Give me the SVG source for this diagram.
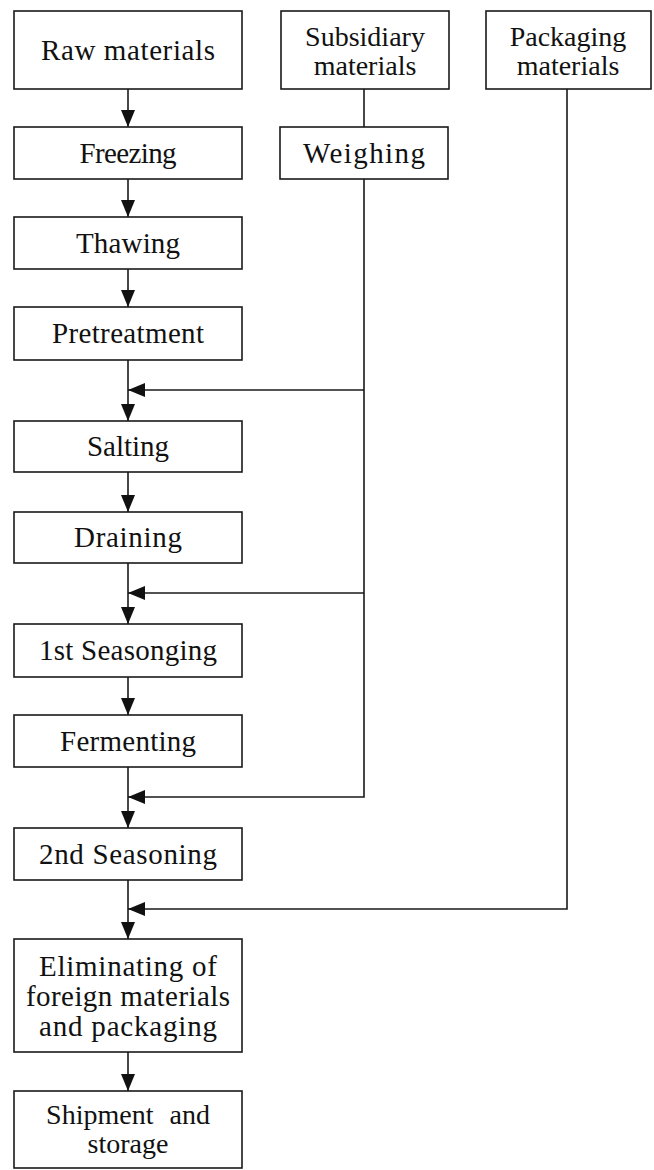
<svg xmlns="http://www.w3.org/2000/svg" width="654" height="1170" viewBox="0 0 654 1170">
<style>
.box{fill:#fff;stroke:#1a1a1a;stroke-width:1.6}
.t{font-family:"Liberation Serif","Times New Roman",serif;font-size:29px;fill:#111;text-anchor:middle}
.s{font-size:28px}
.c{fill:none;stroke:#1a1a1a;stroke-width:1.6}
</style>
<defs>
<marker id="ah" viewBox="0 0 17 14" refX="17" refY="7" markerWidth="17" markerHeight="14" markerUnits="userSpaceOnUse" orient="auto">
<path d="M0,0 L17,7 L0,14 z" fill="#111"/>
</marker>
</defs>
<rect width="654" height="1170" fill="#fff"/>
<g id="connectors">
<path class="c" d="M128,89 V127" marker-end="url(#ah)"/>
<path class="c" d="M128,179 V217" marker-end="url(#ah)"/>
<path class="c" d="M128,269 V307" marker-end="url(#ah)"/>
<path class="c" d="M128,360 V421" marker-end="url(#ah)"/>
<path class="c" d="M128,472 V512" marker-end="url(#ah)"/>
<path class="c" d="M128,563 V624" marker-end="url(#ah)"/>
<path class="c" d="M128,677 V715" marker-end="url(#ah)"/>
<path class="c" d="M128,767 V828" marker-end="url(#ah)"/>
<path class="c" d="M128,880 V939" marker-end="url(#ah)"/>
<path class="c" d="M128,1052 V1091" marker-end="url(#ah)"/>
<path class="c" d="M364,89 V127"/>
<path class="c" d="M364,179 V797 H128" marker-end="url(#ah)"/>
<path class="c" d="M364,390 H128" marker-end="url(#ah)"/>
<path class="c" d="M364,593 H128" marker-end="url(#ah)"/>
<path class="c" d="M567,89 V909 H128" marker-end="url(#ah)"/>
</g>
<g id="raw"><rect class="box" x="14" y="11" width="228" height="78"/><text class="t" x="128" y="60" textLength="174" lengthAdjust="spacing">Raw materials</text></g>
<g id="subsidiary"><rect class="box" x="281" y="11" width="168" height="78"/><text class="t s" x="365" y="46">Subsidiary</text><text class="t s" x="365" y="75">materials</text></g>
<g id="packaging"><rect class="box" x="486" y="11" width="165" height="78"/><text class="t s" x="568" y="46">Packaging</text><text class="t s" x="568" y="75">materials</text></g>
<g id="freezing"><rect class="box" x="14" y="127" width="228" height="52"/><text class="t" x="128" y="163" textLength="97" lengthAdjust="spacing">Freezing</text></g>
<g id="weighing"><rect class="box" x="280" y="127" width="168" height="52"/><text class="t" x="364" y="163" textLength="122" lengthAdjust="spacing">Weighing</text></g>
<g id="thawing"><rect class="box" x="14" y="217" width="228" height="52"/><text class="t" x="128" y="253" textLength="104" lengthAdjust="spacing">Thawing</text></g>
<g id="pretreatment"><rect class="box" x="14" y="307" width="228" height="53"/><text class="t" x="128" y="343" textLength="152" lengthAdjust="spacing">Pretreatment</text></g>
<g id="salting"><rect class="box" x="14" y="421" width="228" height="51"/><text class="t" x="128" y="456" textLength="82" lengthAdjust="spacing">Salting</text></g>
<g id="draining"><rect class="box" x="14" y="512" width="228" height="51"/><text class="t" x="128" y="547" textLength="108" lengthAdjust="spacing">Draining</text></g>
<g id="seasoning1"><rect class="box" x="14" y="624" width="228" height="53"/><text class="t" x="128" y="660" textLength="178" lengthAdjust="spacing">1st Seasonging</text></g>
<g id="fermenting"><rect class="box" x="14" y="715" width="228" height="52"/><text class="t" x="128" y="751" textLength="136" lengthAdjust="spacing">Fermenting</text></g>
<g id="seasoning2"><rect class="box" x="14" y="828" width="228" height="52"/><text class="t" x="128" y="864" textLength="178" lengthAdjust="spacing">2nd Seasoning</text></g>
<g id="eliminating"><rect class="box" x="14" y="939" width="228" height="113"/><text class="t" x="128" y="976" textLength="178" lengthAdjust="spacing">Eliminating of</text><text class="t" x="128" y="1006" textLength="204" lengthAdjust="spacing">foreign materials</text><text class="t" x="128" y="1036" textLength="178" lengthAdjust="spacing">and packaging</text></g>
<g id="shipment"><rect class="box" x="14" y="1091" width="228" height="77"/><text class="t s" x="128" y="1124" word-spacing="9">Shipment and</text><text class="t s" x="128" y="1153">storage</text></g>
</svg>
